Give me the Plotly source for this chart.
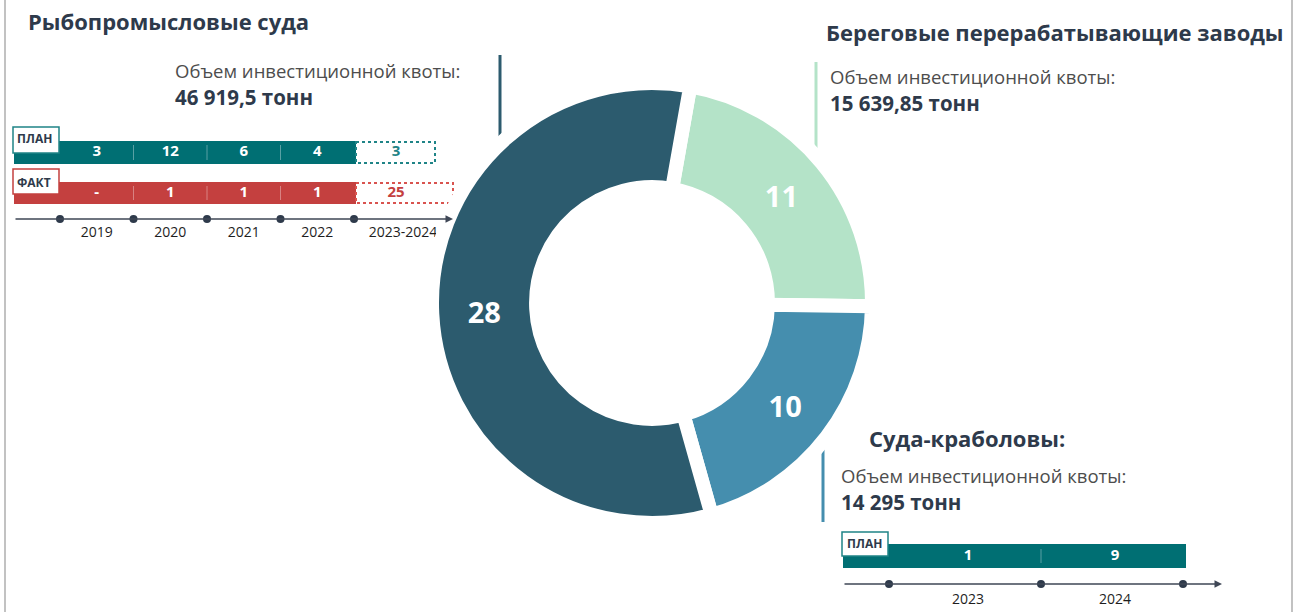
import plotly.graph_objects as go

# ---------------- data ----------------
segments = ["Рыбопромысловые суда", "Береговые перерабатывающие заводы", "Суда-краболовы"]
counts = [28, 11, 10]
seg_colors = ["#2c5b6e", "#b4e3c8", "#458eae"]

quota_label = "Объем инвестиционной квоты:"
quotas = ["46 919,5 тонн", "15 639,85 тонн", "14 295 тонн"]
titles = ["Рыбопромысловые суда", "Береговые перерабатывающие заводы", "Суда-краболовы:"]

years_fish = ["2019", "2020", "2021", "2022", "2023-2024"]
plan_fish = ["3", "12", "6", "4", "3"]
fact_fish = ["-", "1", "1", "1", "25"]

years_crab = ["2023", "2024"]
plan_crab = ["1", "9"]

row_labels = ["ПЛАН", "ФАКТ"]

# ---------------- styles ----------------
NAVY = "#2e3a4b"
GRAY = "#4d4d4d"
TEAL = "#006f73"
TEAL_DOT = "#1f8487"
RED = "#c4403f"
RED_DOT = "#d9534f"
AXIS = "#3f4756"
FONT = "Open Sans"
W, H = 1301, 612

fig = go.Figure()

# ---------------- donut ----------------
order = [1, 2, 0]  # clockwise from top: green, blue, dark
cx, cy, R = 652, 303, 220
fig.add_trace(go.Pie(
    labels=[segments[i] for i in order],
    values=[counts[i] for i in order],
    marker=dict(colors=[seg_colors[i] for i in order], line=dict(color="white", width=14)),
    hole=0.527, rotation=10, direction="clockwise", sort=False,
    textinfo="value", textposition="inside", insidetextorientation="horizontal",
    textfont=dict(family=FONT, size=29, color="white", weight="bold"),
    domain=dict(x=[(cx - R) / W, (cx + R) / W], y=[(H - cy - R) / H, (H - cy + R) / H]),
    showlegend=False, hoverinfo="label+value",
))

shapes = []
annotations = []


def txt(x, y, s, size, color, bold=False, xanchor="left", family=FONT):
    annotations.append(dict(x=x, y=y, xref="x", yref="y", text=s, showarrow=False,
                            xanchor=xanchor, yanchor="middle",
                            font=dict(family=family, size=size, color=color,
                                      weight="bold" if bold else "normal")))


def quota_block(x, y_label, q):
    txt(x, y_label, quota_label, 18.5, GRAY)
    txt(x, y_label + 27, q, 20.5, NAVY, True)


# page side borders
for bx in (5, 1292):
    shapes.append(dict(type="line", xref="x", yref="y", x0=bx, x1=bx, y0=0, y1=H,
                       line=dict(color="#c2c2c2", width=2)))

# leader lines
shapes.append(dict(type="line", xref="x", yref="y", x0=500, x1=500, y0=55, y1=175,
                   line=dict(color=seg_colors[0], width=3), layer="below"))
shapes.append(dict(type="line", xref="x", yref="y", x0=816, x1=816, y0=62, y1=180,
                   line=dict(color=seg_colors[1], width=3), layer="below"))
shapes.append(dict(type="line", xref="x", yref="y", x0=823, x1=823, y0=420, y1=522,
                   line=dict(color=seg_colors[2], width=3), layer="below"))

# titles and quotas
txt(26, 21, titles[0], 22, NAVY, True)
quota_block(173, 70, quotas[0])

txt(824, 32, titles[1], 22, NAVY, True)
quota_block(828, 76, quotas[1])

txt(867, 438, titles[2], 22, NAVY, True)
quota_block(839, 475, quotas[2])

# ---------------- left block: fishing vessels ----------------
step = 73.5
dots = [60 + step * i for i in range(len(years_fish))]
bar_x0 = 14
bar_x1 = dots[-1] + 2
plan_y = (141, 164)
fact_y = (182, 204)
plan_dot_x1 = 435
fact_dot_x1 = 453
tl_y = 219

shapes.append(dict(type="rect", xref="x", yref="y", x0=bar_x0, x1=bar_x1, y0=plan_y[0], y1=plan_y[1],
                   fillcolor=TEAL, line=dict(width=0), layer="below"))
shapes.append(dict(type="rect", xref="x", yref="y", x0=bar_x1, x1=plan_dot_x1, y0=plan_y[0] + 1, y1=plan_y[1] - 1,
                   fillcolor="rgba(0,0,0,0)", line=dict(color=TEAL_DOT, width=2, dash="dot"), layer="below"))
shapes.append(dict(type="rect", xref="x", yref="y", x0=bar_x0, x1=bar_x1, y0=fact_y[0], y1=fact_y[1],
                   fillcolor=RED, line=dict(width=0), layer="below"))
shapes.append(dict(type="rect", xref="x", yref="y", x0=bar_x1, x1=fact_dot_x1, y0=fact_y[0] + 1, y1=fact_y[1] - 1,
                   fillcolor="rgba(0,0,0,0)", line=dict(color=RED_DOT, width=2, dash="dot"), layer="below"))
for d in dots[1:4]:
    for (y0, y1) in (plan_y, fact_y):
        shapes.append(dict(type="line", xref="x", yref="y", x0=d, x1=d, y0=y0 + 4, y1=y1 - 4,
                           line=dict(color="rgba(255,255,255,0.35)", width=1), layer="below"))

# row label boxes
for lab, (by0, by1), col, ty in ((row_labels[0], (127, 153), TEAL_DOT, 138.5),
                                  (row_labels[1], (169, 194), RED, 182)):
    shapes.append(dict(type="rect", xref="x", yref="y", x0=13, x1=59, y0=by0, y1=by1,
                       fillcolor="white", line=dict(color=col, width=1.5), layer="below"))
    txt(15, ty, lab, 12, NAVY, True)

# timeline
annotations.append(dict(x=fact_dot_x1, y=tl_y, ax=bar_x0, ay=tl_y, xref="x", yref="y", axref="x", ayref="y",
                        text="", showarrow=True, arrowhead=2, arrowsize=1, arrowwidth=1.5,
                        arrowcolor=AXIS, standoff=0, startstandoff=0))

mid = [(dots[i] + dots[i + 1]) / 2 for i in range(len(dots) - 1)]
val_x = mid + [396]
year_x = mid + [403]

fig.add_trace(go.Scatter(x=dots, y=[tl_y] * len(dots), mode="markers",
                         marker=dict(size=8, color=NAVY), showlegend=False, hoverinfo="skip"))
fig.add_trace(go.Scatter(x=val_x, y=[(plan_y[0] + plan_y[1]) / 2] * len(plan_fish), mode="text",
                         text=plan_fish,
                         textfont=dict(family=FONT, size=15, weight="bold",
                                       color=["white"] * (len(plan_fish) - 1) + [TEAL_DOT]),
                         showlegend=False, hoverinfo="skip"))
fig.add_trace(go.Scatter(x=val_x, y=[(fact_y[0] + fact_y[1]) / 2] * len(fact_fish), mode="text",
                         text=fact_fish,
                         textfont=dict(family=FONT, size=15, weight="bold",
                                       color=["white"] * (len(fact_fish) - 1) + [RED]),
                         showlegend=False, hoverinfo="skip"))
fig.add_trace(go.Scatter(x=year_x, y=[233] * len(years_fish), mode="text", text=years_fish,
                         textfont=dict(family=FONT, size=14, color="#1e1e1e"),
                         showlegend=False, hoverinfo="skip"))

# ---------------- right block: crab vessels ----------------
cdots = [889, 1041, 1183]
cbar = (843, 1186, 544, 568)
ctl_y = 584
shapes.append(dict(type="rect", xref="x", yref="y", x0=cbar[0], x1=cbar[1], y0=cbar[2], y1=cbar[3],
                   fillcolor=TEAL, line=dict(width=0), layer="below"))
shapes.append(dict(type="line", xref="x", yref="y", x0=cdots[1], x1=cdots[1], y0=cbar[2] + 5, y1=cbar[3] - 5,
                   line=dict(color="rgba(255,255,255,0.35)", width=1), layer="below"))
shapes.append(dict(type="rect", xref="x", yref="y", x0=842, x1=888, y0=532, y1=556,
                   fillcolor="white", line=dict(color=TEAL_DOT, width=1.5), layer="below"))
txt(845, 543, row_labels[0], 12, NAVY, True)

annotations.append(dict(x=1222, y=ctl_y, ax=843, ay=ctl_y, xref="x", yref="y", axref="x", ayref="y",
                        text="", showarrow=True, arrowhead=2, arrowsize=1, arrowwidth=1.5,
                        arrowcolor=AXIS, standoff=0, startstandoff=0))
cmid = [(cdots[i] + cdots[i + 1]) / 2 + 3 for i in range(len(cdots) - 1)]
fig.add_trace(go.Scatter(x=cdots, y=[ctl_y] * len(cdots), mode="markers",
                         marker=dict(size=8, color=NAVY), showlegend=False, hoverinfo="skip"))
fig.add_trace(go.Scatter(x=cmid, y=[(cbar[2] + cbar[3]) / 2] * len(plan_crab), mode="text", text=plan_crab,
                         textfont=dict(family=FONT, size=15, color="white", weight="bold"),
                         showlegend=False, hoverinfo="skip"))
fig.add_trace(go.Scatter(x=cmid, y=[600] * len(years_crab), mode="text", text=years_crab,
                         textfont=dict(family=FONT, size=14, color="#1e1e1e"),
                         showlegend=False, hoverinfo="skip"))

fig.update_layout(
    width=W, height=H, autosize=False,
    margin=dict(l=0, r=0, t=0, b=0),
    paper_bgcolor="white", plot_bgcolor="rgba(0,0,0,0)",
    xaxis=dict(range=[0, W], visible=False, fixedrange=True, domain=[0, 1]),
    yaxis=dict(range=[H, 0], visible=False, fixedrange=True, domain=[0, 1]),
    shapes=shapes, annotations=annotations,
    font=dict(family=FONT),
)

fig.write_html("out.html", config={"displayModeBar": False},
               post_script="document.body.style.margin='0';")
